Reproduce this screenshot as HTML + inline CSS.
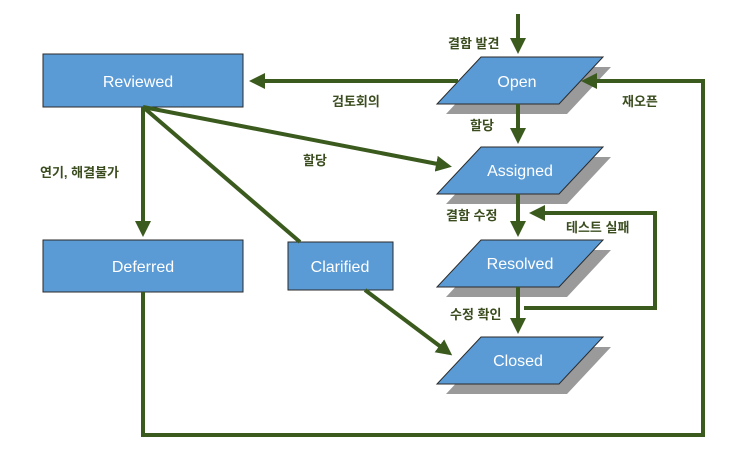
<!DOCTYPE html>
<html><head><meta charset="utf-8"><style>
body{margin:0;background:#fff}
svg text{font-family:"Liberation Sans","Noto Sans CJK KR",sans-serif}
.l{font-size:13px;font-weight:bold;fill:#3b4d1f}
.n{font-size:16px;fill:#fff}
</style></head><body>
<svg width="756" height="449" viewBox="0 0 756 449" xmlns="http://www.w3.org/2000/svg">
<defs><marker id="a" markerWidth="4" markerHeight="4" refX="3" refY="2" orient="auto" markerUnits="strokeWidth"><path d="M0,0 L4,2 L0,4 z" fill="#3b5a1e"/></marker></defs>
<g fill="#9a9a9a">
<polygon points="490,67 611,67 567,114 446,114"/>
<polygon points="490,157 611,157 567,204 446,204"/>
<polygon points="490,250 611,250 567,297 446,297"/>
<polygon points="490,347 611,347 567,394 446,394"/>
</g>
<g fill="#5b9bd5" stroke="#2a2a2a" stroke-width="1">
<rect x="43" y="54" width="200" height="53"/>
<rect x="43" y="240" width="200" height="52"/>
<rect x="288" y="242" width="105" height="48"/>
<polygon points="481,57 603,57 559,104 437,104"/>
<polygon points="481,147 603,147 559,194 437,194"/>
<polygon points="481,240 603,240 559,287 437,287"/>
<polygon points="481,337 603,337 559,384 437,384"/>
</g>
<g stroke="#3b5a1e" stroke-width="4" fill="none">
<line x1="518" y1="14" x2="518" y2="50" marker-end="url(#a)"/>
<line x1="458" y1="81" x2="253" y2="81" marker-end="url(#a)"/>
<polyline points="143,292 143,435 703,435 703,81 585,81" marker-end="url(#a)"/>
<line x1="518" y1="104" x2="518" y2="140" marker-end="url(#a)"/>
<line x1="518" y1="194" x2="518" y2="233" marker-end="url(#a)"/>
<line x1="518" y1="287" x2="518" y2="330" marker-end="url(#a)"/>
<polyline points="524,308 655,308 655,213 533,213" marker-end="url(#a)"/>
<line x1="143" y1="107" x2="448" y2="166" marker-end="url(#a)"/>
<line x1="143" y1="107" x2="143" y2="233" marker-end="url(#a)"/>
<line x1="143" y1="107" x2="300" y2="242"/>
<line x1="365" y1="290" x2="449" y2="353" marker-end="url(#a)"/>
</g>
<g text-anchor="middle">
<text class="n" x="138" y="87">Reviewed</text>
<text class="n" x="143" y="272">Deferred</text>
<text class="n" x="340" y="272">Clarified</text>
<text class="n" x="517" y="87">Open</text>
<text class="n" x="520" y="176">Assigned</text>
<text class="n" x="520" y="269">Resolved</text>
<text class="n" x="518" y="366">Closed</text>
</g>
<text class="l" x="448" y="48">결함 발견</text>
<text class="l" x="332" y="106">검토회의</text>
<text class="l" x="622" y="106">재오픈</text>
<text class="l" x="470" y="130">할당</text>
<text class="l" x="303" y="165">할당</text>
<text class="l" x="40" y="177">연기, 해결불가</text>
<text class="l" x="446" y="220">결함 수정</text>
<text class="l" x="566" y="232">테스트 실패</text>
<text class="l" x="450" y="319">수정 확인</text>
</svg>
</body></html>
